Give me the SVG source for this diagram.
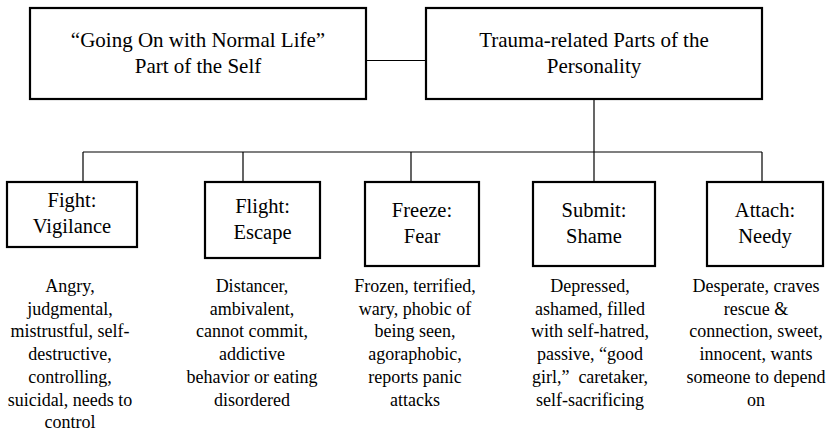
<svg xmlns="http://www.w3.org/2000/svg" width="834" height="433" viewBox="0 0 834 433">
<style>
.box{fill:#fff;stroke:#000;stroke-width:2.2}
.ln{fill:none;stroke:#000;stroke-width:1.2}
text{font-family:'Liberation Serif','Times New Roman',serif;fill:#000;text-anchor:middle}
.h{font-size:21px}
.c{font-size:20.5px}
.d{font-size:18px}
</style>
<rect width="834" height="433" fill="#fff"/>
<g id="connectors">
<path class="ln" d="M366,60.5H426"/>
<path class="ln" d="M594,99V182"/>
<path class="ln" d="M83,152H762"/>
<path class="ln" d="M83,152V182M243,152V182M411,152V182M762,152V182"/>
</g>
<g id="normal-life">
<rect class="box" x="30" y="8" width="336" height="91"/>
<text class="h" x="198" y="47">“Going On with Normal Life”</text>
<text class="h" x="198" y="73">Part of the Self</text>
</g>
<g id="trauma-parts">
<rect class="box" x="426" y="8" width="336" height="91"/>
<text class="h" x="594" y="47">Trauma-related Parts of the</text>
<text class="h" x="594" y="73">Personality</text>
</g>
<g id="fight">
<rect class="box" x="7" y="182" width="130" height="65"/>
<text class="c" x="72" y="207">Fight:</text>
<text class="c" x="72" y="233">Vigilance</text>
<text class="d" x="70" y="292">Angry,</text>
<text class="d" x="70" y="314.7">judgmental,</text>
<text class="d" x="70" y="337.4">mistrustful, self-</text>
<text class="d" x="70" y="360.1">destructive,</text>
<text class="d" x="70" y="382.8">controlling,</text>
<text class="d" x="70" y="405.5">suicidal, needs to</text>
<text class="d" x="70" y="428.2">control</text>
</g>
<g id="flight">
<rect class="box" x="205" y="182" width="115" height="76"/>
<text class="c" x="262.5" y="213">Flight:</text>
<text class="c" x="262.5" y="239">Escape</text>
<text class="d" x="252" y="292">Distancer,</text>
<text class="d" x="252" y="314.7">ambivalent,</text>
<text class="d" x="252" y="337.4">cannot commit,</text>
<text class="d" x="252" y="360.1">addictive</text>
<text class="d" x="252" y="382.8">behavior or eating</text>
<text class="d" x="252" y="405.5">disordered</text>
</g>
<g id="freeze">
<rect class="box" x="365" y="182" width="114" height="84"/>
<text class="c" x="422" y="217">Freeze:</text>
<text class="c" x="422" y="243">Fear</text>
<text class="d" x="415" y="292">Frozen, terrified,</text>
<text class="d" x="415" y="314.7">wary, phobic of</text>
<text class="d" x="415" y="337.4">being seen,</text>
<text class="d" x="415" y="360.1">agoraphobic,</text>
<text class="d" x="415" y="382.8">reports panic</text>
<text class="d" x="415" y="405.5">attacks</text>
</g>
<g id="submit">
<rect class="box" x="533" y="182" width="122" height="84"/>
<text class="c" x="594" y="217">Submit:</text>
<text class="c" x="594" y="243">Shame</text>
<text class="d" x="590" y="292">Depressed,</text>
<text class="d" x="590" y="314.7">ashamed, filled</text>
<text class="d" x="590" y="337.4">with self-hatred,</text>
<text class="d" x="590" y="360.1">passive, “good</text>
<text class="d" x="590" y="382.8">girl,”&#160; caretaker,</text>
<text class="d" x="590" y="405.5">self-sacrificing</text>
</g>
<g id="attach">
<rect class="box" x="707" y="182" width="116" height="84"/>
<text class="c" x="765" y="217">Attach:</text>
<text class="c" x="765" y="243">Needy</text>
<text class="d" x="756" y="292">Desperate, craves</text>
<text class="d" x="756" y="314.7">rescue &amp;</text>
<text class="d" x="756" y="337.4">connection, sweet,</text>
<text class="d" x="756" y="360.1">innocent, wants</text>
<text class="d" x="756" y="382.8">someone to depend</text>
<text class="d" x="756" y="405.5">on</text>
</g>
</svg>
